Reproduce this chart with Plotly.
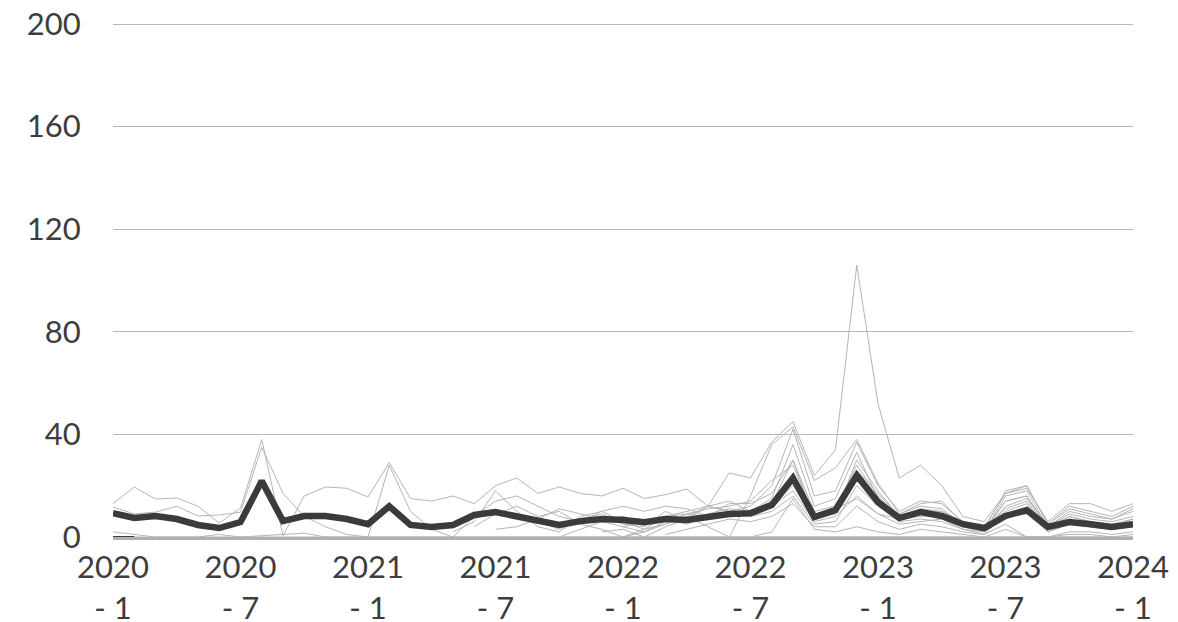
import plotly.graph_objects as go

# ---- data ----
years = [2020, 2021, 2022, 2023]
categories = [f"{y} - {m}" for y in years for m in range(1, 13)] + ["2024 - 1"]
tick_labels = ["2020 - 1", "2020 - 7", "2021 - 1", "2021 - 7", "2022 - 1",
               "2022 - 7", "2023 - 1", "2023 - 7", "2024 - 1"]
y_ticks = [0, 40, 80, 120, 160, 200]

N = None
s1 = [13, 19.5, 14.8, 15.2, 12, 5.4, 11.3, 38, 0.5, 16, 19.5, 19, 15.6,
      29, 15, 14, 16, 13, 20, 23, 17, 19.5, 17, 16, 19,
      15, 16.5, 18.7, 12, 10, 9, 12, 20, 8, 11, 15, 9,
      7, 9, 10, 6, 3, 10, 13, 3, 6, 6, 4, 6]
s2 = [11.7, 9, 9.7, 12, 8.2, 8.6, 9.7, 35, 17, 8, 4, 1, 0,
      28, 10, 3, 0, 8, 14, 16, 12, 8, 6, 10, 12,
      10, 12, 11, 8, 13, 13, 17, 30, 10, 12, 26, 17,
      8, 10, 8, 4, 3, 14, 16, 3, 8, 6, 5, 7]
s3 = [2, 1, 0, 0, 0, 1, 0, 0.5, 1, 1.5, 0, 0, 0,
      0, 0, 0, 0, 0, 0, 0, 0, 0, 0, 0, 0,
      0, 0, 0, 0, 0, 0, 0, 0, 0, 0, 0, 0,
      0, 0, 0, 0, 0, 0, 0, 0, 0, 0, 0, 0]
s5 = [N] * 16 + [2, 6, 18, 10, 4, 2, 8, 10, 6,
                 3, 8, 10, 12, 14, 10, 15, 36, 12, 15, 33, 15,
                 9, 12, 11, 5, 2, 16, 18, 4, 10, 8, 7, 10]
s6 = [N] * 17 + [4, 9, 12, 8, 10, 5, 3, 0,
                 2, 5, 9, 8, 10, 12, 20, 42, 16, 18, 37, 20,
                 10, 14, 13, 6, 4, 17, 20, 5, 12, 10, 8, 12]
s7 = [N] * 18 + [3, 4, 7, 11, 9, 7, 8,
                 6, 8, 9, 11, 12, 14, 22, 28, 8, 9, 30, 18,
                 8, 11, 10, 5, 2, 12, 15, 4, 8, 6, 4, 7]
s8 = [N] * 20 + [6, 3, 7, 9, 5,
                 4, 10, 6, 9, 11, 10, 14, 25, 9, 10, 28, 16,
                 7, 8, 9, 4, 3, 11, 14, 3, 7, 5, 4, 6]
s9 = [N] * 21 + [0, 3, 6, 4,
                 2, 6, 8, 12, 10, 8, 10, 16, 5, 6, 20, 12,
                 6, 7, 6, 3, 1, 9, 11, 2, 5, 4, 3, 5]
s10 = [N] * 23 + [2, 3,
                  0, 4, 7, 12, 25, 23, 37, 45, 24, 34, 106, 52,
                  23, 28, 20, 8, 6, 17, 19, 6, 13, 13, 10, 13]
s11 = [N] * 24 + [0,
                  3, 5, 8, 4, 0, 16, 36, 43, 22, 27, 38, 21,
                  9, 13, 14, 5, 3, 18, 20, 5, 11, 9, 7, 11]
s12 = [N] * 24 + [4,
                  6, 7, 5, 8, 9, 9, 12, 18, 6, 8, 16, 9,
                  5, 6, 7, 3, 2, 8, 9, 2, 5, 4, 3, 4]
s13 = [N] * 26 + [1,
                  3, 5, 7, 6, 8, 13, 4, 4, 12, 6,
                  3, 5, 4, 2, 1, 5, 0, 0, 2, 2, 1, 2]
s14 = [N] * 28 + [8, 10, 9, 13, 30, 7, 9, 25, 14,
                  7, 9, 8, 4, 2, 14, 16, 4, 9, 7, 6, 8]
s15 = [N] * 30 + [0, 2, 15, 3, 2, 4, 2,
                  1, 3, 2, 1, 0, 3, 0, 0, 1, 1, 0, 1]
s16 = [0] * 49
gray_series = [s1, s2, s3, s5, s6, s7, s8, s9, s10, s11, s12, s13, s14, s15, s16]

short_dark = [0, 0] + [N] * 47

mean_line = [9.3, 7.4, 8.2, 7, 4.7, 3.5, 5.8, 21.8, 6.2, 8.2, 8.2, 7, 5,
             12, 4.7, 3.9, 4.7, 8.6, 9.7, 8.2, 6.6, 4.7, 6.2, 7, 6.6,
             5.8, 7, 6.6, 7.8, 9, 9.3, 12.5, 23, 7.8, 10.5, 24, 13.6,
             7.4, 9.7, 8.2, 5, 3.5, 8.2, 10.5, 3.9, 5.8, 5, 3.9, 5]

# ---- figure ----
fig = go.Figure()
for s in gray_series:
    fig.add_trace(go.Scatter(x=categories, y=s, mode="lines",
                             line=dict(color="#b5b5b5", width=1),
                             connectgaps=False, hoverinfo="skip"))
fig.add_trace(go.Scatter(x=categories, y=short_dark, mode="lines",
                         line=dict(color="#404040", width=2), hoverinfo="skip"))
fig.add_trace(go.Scatter(x=categories, y=mean_line, mode="lines",
                         line=dict(color="#3b3b3b", width=6.5)))

font_family = "Lato, 'Open Sans', sans-serif"
fig.update_layout(
    width=1170, height=622,
    margin=dict(l=105, r=45, t=15, b=93),
    paper_bgcolor="white", plot_bgcolor="white",
    showlegend=False,
    font=dict(family=font_family, size=31, color="#3d3d3d"),
)
fig.update_xaxes(
    type="category", categoryorder="array", categoryarray=categories,
    tickvals=tick_labels,
    ticktext=[t.replace(" - ", "<br>- ") for t in tick_labels],
    showgrid=False, zeroline=False,
    showline=True, linecolor="#b0b0b0", linewidth=3,
    ticks="outside", ticklen=1, tickcolor="rgba(0,0,0,0)",
    range=[0, 48], automargin=False, ticklabeloverflow="allow",
)
fig.update_yaxes(
    range=[0, 200.4], tickvals=y_ticks,
    showgrid=True, gridcolor="#b8b8b8", gridwidth=1,
    zeroline=False, showline=False,
    ticks="outside", ticklen=25, tickcolor="rgba(0,0,0,0)",
    automargin=False, ticklabeloverflow="allow",
)
fig.write_html("out.html")
